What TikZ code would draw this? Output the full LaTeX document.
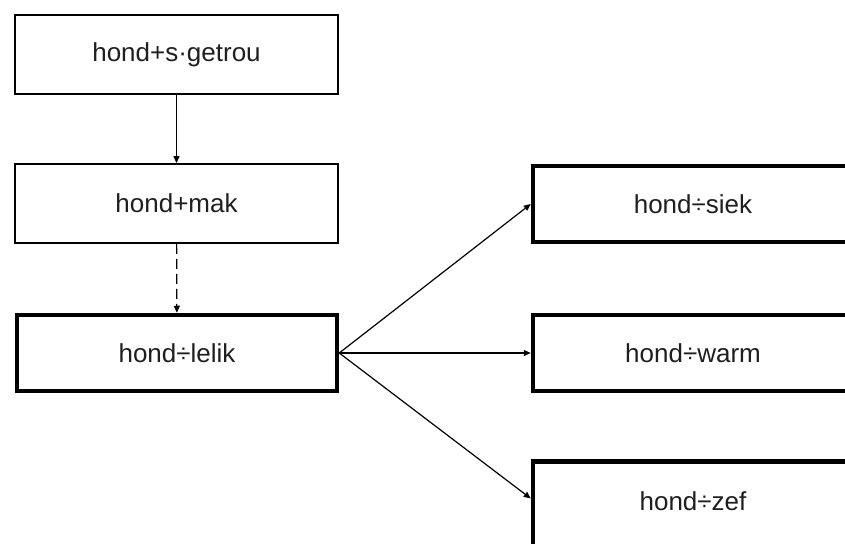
\documentclass[tikz,border=0pt]{standalone}
\usepackage{fontspec}
\setmainfont{Liberation Sans}
\usetikzlibrary{arrows.meta}
\begin{document}
\begin{tikzpicture}[x=1pt,y=-1pt,
  box/.style={draw=black, line width=1.8pt, minimum width=323pt, minimum height=79pt,
    inner sep=0pt, font=\fontsize{26}{30}\selectfont, text=black!88},
  boldbox/.style={box, line width=4.5pt, minimum width=320pt, minimum height=76pt},
  link/.style={line width=1.2pt, -{Triangle[length=7pt,width=6pt]}}]
  \useasboundingbox (0,0) rectangle (845,543);
  \clip (0,0) rectangle (845,543);
  \node[box] (getrou) at (176.5,54.5) {hond+s·getrou};
  \node[box] (mak) at (176.5,203.5) {hond+mak};
  \node[boldbox] (lelik) at (177,353) {hond÷lelik};
  \node[boldbox] (siek) at (693,204) {hond÷siek};
  \node[boldbox] (warm) at (693,353) {hond÷warm};
  % lower box runs past the bottom edge; its text sits where a 78pt box would centre it
  \node[boldbox, minimum height=96pt, text depth=17pt] (zef) at (693,509.5) {hond÷zef};
  \draw[link] (getrou) -- (mak);
  \draw[link, dash pattern=on 10pt off 5pt] (mak) -- (lelik);
  \draw[link] (lelik.east) -- (siek.west);
  \draw[link] (lelik.east) -- (warm.west);
  \draw[link] (lelik.east) -- ([yshift=11pt]zef.west);
\end{tikzpicture}
\end{document}
